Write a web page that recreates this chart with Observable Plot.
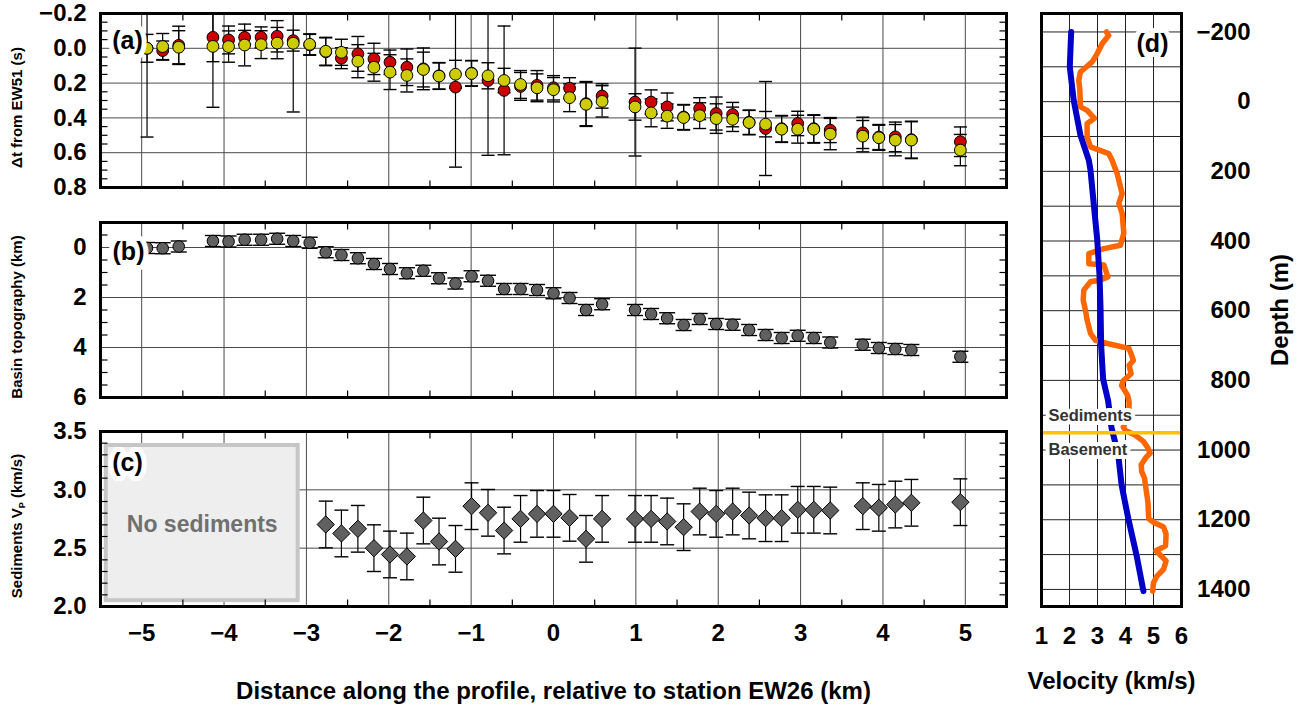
<!DOCTYPE html>
<html><head><meta charset="utf-8">
<script src="https://cdn.jsdelivr.net/npm/d3@7"></script>
<script src="https://cdn.jsdelivr.net/npm/@observablehq/plot@0.6"></script>
<style>
html,body{margin:0;padding:0;background:#fff;}
#chart{position:relative;width:1304px;height:704px;overflow:hidden;background:#fff;}
</style></head><body><div id="chart"></div>
<script>
// ---------- data ----------
const stations = [-4.935, -4.745, -4.55, -4.135, -3.945, -3.75, -3.55, -3.355, -3.16, -2.96,
  -2.765, -2.575, -2.375, -2.18, -1.985, -1.78, -1.58, -1.39, -1.19, -0.995,
  -0.795, -0.6, -0.4, -0.2, 0.0, 0.195, 0.395, 0.59, 0.99, 1.185,
  1.38, 1.58, 1.775, 1.975, 2.175, 2.375, 2.575, 2.77, 2.965, 3.16,
  3.36, 3.755, 3.95, 4.15, 4.345, 4.94];
const redDt = [0.0, 0.013, -0.017, -0.063, -0.048, -0.063, -0.063, -0.069, -0.044, -0.02,
  0.02, 0.057, 0.032, 0.061, 0.08, 0.109, 0.118, 0.158, 0.223, 0.143,
  0.185, 0.242, 0.219, 0.213, 0.227, 0.229, 0.318, 0.274, 0.309, 0.309,
  0.337, 0.395, 0.347, 0.375, 0.381, 0.425, 0.461, 0.462, 0.432, 0.462,
  0.47, 0.486, 0.51, 0.509, 0.525, 0.537];
const redErr = [0.08, 0.055, 0.11, 0.14, 0.08, 0.04, 0.06, 0.09, 0.06, 0.06,
  0.08, 0.06, 0.1, 0.09, 0.07, 0.105, 0.12, 0.076, 0.46, 0.073,
  0.43, 0.37, 0.08, 0.085, 0.07, 0.06, 0.127, 0.07, 0.31, 0.07,
  0.08, 0.072, 0.063, 0.095, 0.07, 0.07, 0.27, 0.076, 0.07, 0.08,
  0.072, 0.09, 0.072, 0.085, 0.106, 0.085];
const yellowDt = [0.0, -0.01, -0.006, -0.011, -0.01, -0.019, -0.021, -0.03, -0.029, -0.023,
  0.017, 0.023, 0.074, 0.109, 0.137, 0.156, 0.122, 0.16, 0.149, 0.145,
  0.158, 0.185, 0.208, 0.227, 0.238, 0.284, 0.322, 0.305, 0.337, 0.371,
  0.39, 0.398, 0.387, 0.404, 0.408, 0.427, 0.436, 0.465, 0.465, 0.465,
  0.493, 0.505, 0.514, 0.528, 0.528, 0.585];
const yellowErr = [0.51, 0.075, 0.095, 0.35, 0.09, 0.12, 0.08, 0.09, 0.395, 0.06,
  0.08, 0.075, 0.095, 0.08, 0.1, 0.095, 0.1, 0.076, 0.08, 0.073,
  0.075, 0.07, 0.08, 0.08, 0.07, 0.08, 0.127, 0.09, 0.076, 0.08,
  0.07, 0.072, 0.074, 0.085, 0.07, 0.07, 0.073, 0.076, 0.08, 0.08,
  0.09, 0.09, 0.072, 0.09, 0.106, 0.09];

const basinDepth = [0.02, 0.03, -0.04, -0.26, -0.24, -0.31, -0.31, -0.35, -0.26, -0.19,
  0.19, 0.30, 0.43, 0.66, 0.86, 1.03, 0.93, 1.23, 1.44, 1.15,
  1.33, 1.66, 1.66, 1.70, 1.83, 2.02, 2.50, 2.27, 2.50, 2.66,
  2.83, 3.10, 2.86, 3.06, 3.09, 3.30, 3.50, 3.62, 3.53, 3.62,
  3.80, 3.89, 4.02, 4.06, 4.10, 4.37];
const basinErr = [0.22, 0.22, 0.22, 0.22, 0.22, 0.22, 0.22, 0.22, 0.22, 0.22,
  0.22, 0.22, 0.22, 0.22, 0.22, 0.22, 0.22, 0.22, 0.22, 0.22,
  0.22, 0.22, 0.22, 0.22, 0.22, 0.22, 0.22, 0.22, 0.22, 0.22,
  0.22, 0.22, 0.22, 0.22, 0.22, 0.22, 0.22, 0.22, 0.22, 0.22,
  0.22, 0.22, 0.22, 0.22, 0.22, 0.22];

const vpStations = [-2.765, -2.575, -2.375, -2.18, -1.985, -1.78, -1.58, -1.39, -1.19, -0.995,
  -0.795, -0.6, -0.4, -0.2, 0.0, 0.195, 0.395, 0.59, 0.99, 1.185,
  1.38, 1.58, 1.775, 1.975, 2.175, 2.375, 2.575, 2.77, 2.965, 3.16,
  3.36, 3.755, 3.95, 4.15, 4.345, 4.94];
const vpValues = [2.703, 2.626, 2.666, 2.50, 2.446, 2.429, 2.737, 2.557, 2.494, 2.86,
  2.803, 2.651, 2.751, 2.794, 2.794, 2.76, 2.58, 2.751, 2.751, 2.751,
  2.729, 2.68, 2.814, 2.794, 2.814, 2.78, 2.757, 2.757, 2.829, 2.829,
  2.823, 2.86, 2.846, 2.874, 2.889, 2.894];
const vpErr = [0.2, 0.2, 0.2, 0.2, 0.2, 0.2, 0.2, 0.2, 0.2, 0.2,
  0.2, 0.2, 0.2, 0.2, 0.2, 0.2, 0.2, 0.2, 0.2, 0.2,
  0.2, 0.2, 0.2, 0.2, 0.2, 0.2, 0.2, 0.2, 0.2, 0.2,
  0.2, 0.2, 0.2, 0.2, 0.2, 0.2];
const noSedimentsX = [-5.43, -3.10];
const noSedimentsY = [2.05, 3.38];

const modelVelocity = [2.06, 2.01, 2.15, 2.39, 2.69, 2.75, 2.87, 2.99, 3.07, 3.11, 3.13, 3.2, 3.38, 3.5, 3.74, 3.86, 4.1, 4.4, 4.64];
const modelDepth    = [-200, -100, -4, 96, 168, 197, 297, 396, 496, 597, 700, 796, 859, 936, 1013, 1100, 1197, 1304, 1405];
const logVelocity = [3.32, 3.4, 3.17, 2.99, 2.81, 2.39, 2.33, 2.37, 2.39, 2.63, 2.89, 2.63, 2.63, 2.75, 3.4, 3.52, 3.7, 3.82, 3.88, 3.76,
  3.88, 3.94, 3.82, 3.23, 2.69, 2.69, 3.23, 3.37, 3.11, 2.75, 2.51, 2.49, 2.57, 2.63, 2.75, 2.93, 3.35, 4.12, 4.22, 4.28,
  4.13, 4.2, 3.92, 3.86, 3.98, 4.08, 4.13, 4.12, 3.92, 4.0, 4.34, 4.64, 4.8, 4.88, 4.73, 4.56, 4.58, 4.68, 4.73, 4.8,
  4.83, 5.0, 5.36, 5.45, 5.43, 5.09, 5.25, 5.45, 5.36, 5.13, 5.0, 4.97];
const logDepth = [-200, -190, -167, -138, -114, -85, -61, -33, 15, 25, 48, 63, 101, 130, 149, 168, 206, 245, 264, 292,
  321, 378, 412, 422, 436, 465, 469, 503, 512, 517, 541, 570, 599, 627, 665, 685, 694, 708, 728, 743,
  757, 781, 801, 815, 830, 844, 863, 900, 934, 944, 957, 975, 994, 1009, 1021, 1042, 1062, 1081, 1110, 1149,
  1197, 1207, 1221, 1241, 1275, 1289, 1302, 1318, 1342, 1361, 1381, 1405];
const interfaceDepth = [950];
const layerNames = ["Sediments", "Basement"];
const layerLabelDepth = [900, 1000];

// ticks / labels
const xTicks = [-5, -4, -3, -2, -1, 0, 1, 2, 3, 4, 5];
const xMinorTicks = [-4.5, -3.5, -2.5, -1.5, -0.5, 0.5, 1.5, 2.5, 3.5, 4.5];
const aTicks = [-0.2, 0.0, 0.2, 0.4, 0.6, 0.8];
const aGrid = [0.0, 0.2, 0.4, 0.6];
const aMinor = [-0.15, -0.1, -0.05, 0.05, 0.1, 0.15, 0.25, 0.3, 0.35, 0.45, 0.5, 0.55, 0.65, 0.7, 0.75];
const bTicks = [0, 2, 4, 6];
const bGrid = [0, 2, 4];
const bMinor = [-0.5, 0.5, 1, 1.5, 2.5, 3, 3.5, 4.5, 5, 5.5];
const cTicks = [2.0, 2.5, 3.0, 3.5];
const cGrid = [2.5, 3.0];
const cMinor = [2.1, 2.2, 2.3, 2.4, 2.6, 2.7, 2.8, 2.9, 3.1, 3.2, 3.3, 3.4];
const velTicks = [1, 2, 3, 4, 5, 6];
const velGrid = [2, 3, 4, 5];
const depthTicks = [-200, 0, 200, 400, 600, 800, 1000, 1200, 1400];
const depthGrid = [-200, -100, 0, 100, 200, 300, 400, 500, 600, 700, 800, 900, 1000, 1100, 1200, 1300, 1400];

// ---------- helpers ----------
const FONT = '"Liberation Sans", Arial, Helvetica, sans-serif';
const GRID = "#4a4a4a";
const seg = (x1, y1, x2, y2) => ({draw(ctx) { ctx.moveTo(x1, y1); ctx.lineTo(x2, y2); }});
const tickIn = {left: seg(0, 0, 7, 0), right: seg(-7, 0, 0, 0), top: seg(0, 0, 0, 7), bottom: seg(0, -7, 0, 0)};
const cap = w => seg(-w, 0, w, 0);
const f1 = d3.format(".1f"), f0 = d3.format("d");
const lbl = {fontFamily: FONT, fontWeight: "bold", fill: "black"};
const mid = {textAnchor: "middle", lineAnchor: "middle"};
const halo = {stroke: "white", strokeWidth: 8, strokeLinejoin: "round", paintOrder: "stroke"};
const chart = document.getElementById("chart");
function place(svg, left, top) {
  svg.style.position = "absolute"; svg.style.left = left + "px"; svg.style.top = top + "px";
  svg.style.maxWidth = "none"; svg.style.overflow = "visible";
  chart.appendChild(svg);
}
function xGrid() { return Plot.ruleX(xTicks, {x: d => d, stroke: GRID, strokeWidth: 1}); }
function xMinor() {
  return [
    Plot.dot(xMinorTicks, {x: d => d, frameAnchor: "top", symbol: tickIn.top, stroke: "black", strokeWidth: 1.2, fill: "none"}),
    Plot.dot(xMinorTicks, {x: d => d, frameAnchor: "bottom", symbol: tickIn.bottom, stroke: "black", strokeWidth: 1.2, fill: "none"})
  ];
}
function yMinor(ticks) {
  return [
    Plot.dot(ticks, {y: d => d, frameAnchor: "left", symbol: tickIn.left, stroke: "black", strokeWidth: 1.2, fill: "none"}),
    Plot.dot(ticks, {y: d => d, frameAnchor: "right", symbol: tickIn.right, stroke: "black", strokeWidth: 1.2, fill: "none"})
  ];
}
function errBars(rows, v, e, w) {
  return [
    Plot.ruleX(rows, {x: "x", y1: d => d[v] - d[e], y2: d => d[v] + d[e], stroke: "black", strokeWidth: 1.2, clip: true}),
    Plot.dot(rows, {x: "x", y: d => d[v] - d[e], symbol: cap(w), stroke: "black", strokeWidth: 1.4, fill: "none", clip: true}),
    Plot.dot(rows, {x: "x", y: d => d[v] + d[e], symbol: cap(w), stroke: "black", strokeWidth: 1.4, fill: "none", clip: true})
  ];
}
function yLabels(ticks, fmt) {
  return Plot.text(ticks, {y: d => d, text: d => fmt(d), frameAnchor: "left", dx: -14, textAnchor: "end", lineAnchor: "middle", fontSize: 24, ...lbl});
}
function yTitle(t) {
  return Plot.text([t], {text: d => d, frameAnchor: "left", dx: -83, dy: 7, rotate: -90, fontSize: 15, ...lbl, ...mid});
}
function panelLabel(t, anchor, dx, dy) {
  return Plot.text([t], {text: d => d, frameAnchor: anchor, dx, dy, fontSize: 25, ...lbl, ...mid, ...halo, strokeWidth: 10});
}
const xScale = {domain: [-5.5, 5.5], axis: null};

// ---------- panel (a) ----------
const rowsA = stations.map((x, i) => ({x, r: redDt[i], re: redErr[i], y: yellowDt[i], ye: yellowErr[i]}));
place(Plot.plot({
  width: 1020, height: 200, marginLeft: 100, marginRight: 14, marginTop: 13, marginBottom: 13,
  style: {fontFamily: FONT, background: "white"},
  x: xScale, y: {domain: [-0.2, 0.8], reverse: true, axis: null},
  marks: [
    xGrid(), Plot.ruleY(aGrid, {y: d => d, stroke: GRID, strokeWidth: 1}),
    ...xMinor(), ...yMinor(aMinor),
    ...errBars(rowsA, "r", "re", 6.5), ...errBars(rowsA, "y", "ye", 6.5),
    Plot.dot(rowsA, {x: "x", y: "r", r: 5.9, fill: "#cc0000", stroke: "black", strokeWidth: 1}),
    Plot.dot(rowsA, {x: "x", y: "y", r: 5.9, fill: "#cccc00", stroke: "black", strokeWidth: 1}),
    panelLabel("(a)", "top-left", 27, 27),
    Plot.frame({stroke: "black", strokeWidth: 3}),
    yLabels(aTicks, f1), yTitle("Δt from EW51 (s)")
  ]
}), 0, 0);

// ---------- panel (b) ----------
const rowsB = stations.map((x, i) => ({x, v: basinDepth[i], e: basinErr[i]}));
place(Plot.plot({
  width: 1020, height: 200, marginLeft: 100, marginRight: 14, marginTop: 12, marginBottom: 13,
  style: {fontFamily: FONT, background: "white"},
  x: xScale, y: {domain: [-1, 6], reverse: true, axis: null},
  marks: [
    xGrid(), Plot.ruleY(bGrid, {y: d => d, stroke: GRID, strokeWidth: 1}),
    ...xMinor(), ...yMinor(bMinor),
    ...errBars(rowsB, "v", "e", 8),
    Plot.dot(rowsB, {x: "x", y: "v", r: 5.8, fill: "#606060", stroke: "black", strokeWidth: 1}),
    panelLabel("(b)", "top-left", 28, 29),
    Plot.frame({stroke: "black", strokeWidth: 3}),
    yLabels(bTicks, f0), yTitle("Basin topography (km)")
  ]
}), 0, 210);

// ---------- panel (c) ----------
const rowsC = vpStations.map((x, i) => ({x, v: vpValues[i], e: vpErr[i]}));
const svgC = Plot.plot({
  width: 1020, height: 284, marginLeft: 100, marginRight: 14, marginTop: 11, marginBottom: 98,
  style: {fontFamily: FONT, background: "white"},
  x: xScale, y: {domain: [2.0, 3.5], axis: null},
  marks: [
    xGrid(), Plot.ruleY(cGrid, {y: d => d, stroke: GRID, strokeWidth: 1}),
    Plot.rect([0], {x1: noSedimentsX[0], x2: noSedimentsX[1], y1: noSedimentsY[0], y2: noSedimentsY[1], fill: "#eeeeee", stroke: "#c6c6c6", strokeWidth: 4}),
    Plot.text(["No sediments"], {text: d => d, x: d3.mean(noSedimentsX), y: d3.mean(noSedimentsY), dy: 2, ...mid, fontSize: 23, fontFamily: FONT, fontWeight: "bold", fill: "#707070"}),
    ...xMinor(), ...yMinor(cMinor),
    ...errBars(rowsC, "v", "e", 7),
    Plot.dot(rowsC, {x: "x", y: "v", r: 7.8, symbol: "diamond2", fill: "#606060", stroke: "black", strokeWidth: 1}),
    panelLabel("(c)", "top-left", 27, 31),
    Plot.frame({stroke: "black", strokeWidth: 3}),
    yLabels(cTicks, f1), yTitle("Sediments VP (km/s)"),
    Plot.text(xTicks, {x: d => d, text: d => f0(d), frameAnchor: "bottom", dy: 27, fontSize: 24, ...lbl, ...mid}),
    Plot.text(["Distance along the profile, relative to station EW26 (km)"], {text: d => d, frameAnchor: "bottom", dy: 85, fontSize: 24, ...lbl, ...mid})
  ]
});
// subscript P in the Vp title
svgC.querySelectorAll("text").forEach(t => {
  if (t.textContent === "Sediments VP (km/s)") {
    t.textContent = "";
    const ns = "http://www.w3.org/2000/svg";
    t.appendChild(document.createTextNode("Sediments V"));
    const s = document.createElementNS(ns, "tspan"); s.setAttribute("font-size", "9"); s.setAttribute("dy", "3"); s.textContent = "P"; t.appendChild(s);
    const r = document.createElementNS(ns, "tspan"); r.setAttribute("dy", "-3"); r.textContent = " (km/s)"; t.appendChild(r);
  }
});
place(svgC, 0, 420);

// ---------- panel (d) ----------
const rowsModel = modelVelocity.map((v, i) => ({v, d: modelDepth[i]}));
const rowsLog = logVelocity.map((v, i) => ({v, d: logDepth[i]}));
const rowsLayers = layerNames.map((n, i) => ({n, d: layerLabelDepth[i]}));
place(Plot.plot({
  width: 284, height: 704, marginLeft: 21, marginRight: 123, marginTop: 13, marginBottom: 98,
  style: {fontFamily: FONT, background: "white"},
  x: {domain: [1, 6], axis: null}, y: {domain: [-253, 1449], reverse: true, axis: null},
  marks: [
    Plot.ruleX(velGrid, {x: d => d, stroke: "#222", strokeWidth: 1}),
    Plot.ruleY(depthGrid, {y: d => d, stroke: "#222", strokeWidth: 1}),
    Plot.line(rowsLog, {x: "v", y: "d", stroke: "#ff6600", strokeWidth: 5.5, strokeLinejoin: "round", clip: true}),
    Plot.line(rowsModel, {x: "v", y: "d", stroke: "#0000c8", strokeWidth: 6, strokeLinejoin: "round", clip: true}),
    Plot.ruleY(interfaceDepth, {y: d => d, stroke: "#ffc000", strokeWidth: 3.5}),
    Plot.text(rowsLayers, {y: "d", text: "n", frameAnchor: "left", dx: 7, textAnchor: "start", lineAnchor: "middle", fontSize: 16.5, fontFamily: FONT, fontWeight: "bold", fill: "#333", ...halo}),
    panelLabel("(d)", "top-right", -29, 30),
    Plot.frame({stroke: "black", strokeWidth: 3}),
    Plot.text(depthTicks, {y: d => d, text: d => f0(d), frameAnchor: "right", dx: 69, textAnchor: "end", lineAnchor: "middle", fontSize: 24, ...lbl}),
    Plot.text(["Depth (m)"], {text: d => d, frameAnchor: "right", dx: 99, rotate: -90, fontSize: 24, ...lbl, ...mid}),
    Plot.text(velTicks, {x: d => d, text: d => f0(d), frameAnchor: "bottom", dy: 30, fontSize: 24, ...lbl, ...mid}),
    Plot.text(["Velocity (km/s)"], {text: d => d, frameAnchor: "bottom", dy: 75, fontSize: 24, ...lbl, ...mid})
  ]
}), 1020, 0);
</script></body></html>
